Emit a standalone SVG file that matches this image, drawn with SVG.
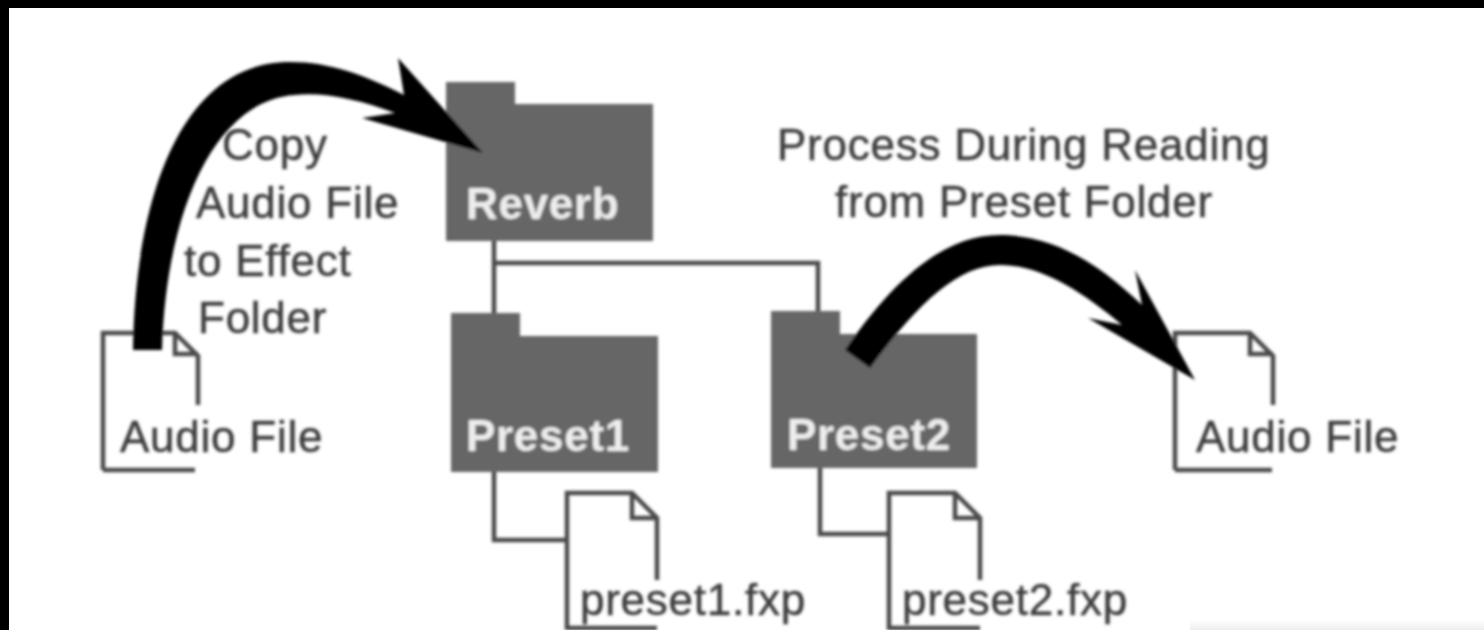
<svg xmlns="http://www.w3.org/2000/svg" width="1484" height="630" viewBox="0 0 1484 630">
<defs>
<filter id="soft" x="0" y="0" width="1484" height="630" filterUnits="userSpaceOnUse"><feGaussianBlur stdDeviation="1.5"/></filter>
<linearGradient id="band" x1="0" y1="0" x2="0" y2="1"><stop offset="0" stop-color="#fff"/><stop offset="1" stop-color="#ededed"/></linearGradient>
</defs>
<style>
.t{font-family:"Liberation Sans",Arial,sans-serif;font-size:44px;letter-spacing:.75px;fill:#3c3c3c;stroke:#3c3c3c;stroke-width:.5px}
.w{font-family:"Liberation Sans",Arial,sans-serif;font-size:44px;letter-spacing:.7px;font-weight:700;fill:#eee}
.f{fill:#666}
.l{fill:none;stroke:#4a4a4a;stroke-width:4.5}
.a{fill:#000}
</style>
<rect width="1484" height="630" fill="#000"/>
<rect x="9" y="8" width="1475" height="622" fill="#fff"/>
<rect x="1190" y="620" width="294" height="10" fill="url(#band)"/>
<g filter="url(#soft)">
<g id="connectors">
<path class="l" d="M494 241V313M494 263H818V311"/>
<path class="l" d="M494 472V540H567"/>
<path class="l" d="M820 468V534H888"/>
</g>
<g id="reverb"><path class="f" d="M446 82H515V104H653V241H446Z"/><text class="w" x="466" y="219">Reverb</text></g>
<g id="preset1"><path class="f" d="M451 313H520V336H658V472H451Z"/><text class="w" x="466" y="451">Preset1</text></g>
<g id="preset2"><path class="f" d="M771 311H840V334H977V468H771Z"/><text class="w" x="787" y="450">Preset2</text></g>
<g id="audio-source">
<path class="l" d="M103 470V333H175L198 356V405M103 470H195M175 333V354H198"/>
<text class="t" x="120" y="452">Audio File</text></g>
<g id="audio-output">
<path class="l" d="M1175 470V333H1250L1273 356V405M1175 470H1272M1250 333V354H1273"/>
<text class="t" x="1196" y="452">Audio File</text></g>
<g id="file-preset1">
<path class="l" d="M567 630V493H632L657 518V580M632 493V518H657M567 628H657"/>
<text class="t" x="580" y="615">preset1.fxp</text></g>
<g id="file-preset2">
<path class="l" d="M889 630V493H955L980 518V580M955 493V518H980M889 628H980"/>
<text class="t" x="902" y="615">preset2.fxp</text></g>
<g id="arrows">
<path class="a" d="M133 350C135 200 180 62 290 62C330 62 365 75 404 95L398 58L483 153L362 118L395 113C360 100 325 92 295 95C215 100 166 210 162 350Z"/>
<path class="a" d="M845 350C900 270 950 235 1000 235C1060 235 1105 270 1142 305L1135 270L1195 380L1088 318L1122 325C1080 290 1040 265 1000 265C960 265 920 300 870 368Z"/>
</g>
<g id="labels">
<text class="t" x="222" y="160">Copy</text>
<text class="t" x="196" y="218">Audio File</text>
<text class="t" x="184" y="276">to Effect</text>
<text class="t" x="198" y="333">Folder</text>
<text class="t" x="777" y="160">Process During Reading</text>
<text class="t" x="835" y="217">from Preset Folder</text>
</g>
</g>
</svg>
